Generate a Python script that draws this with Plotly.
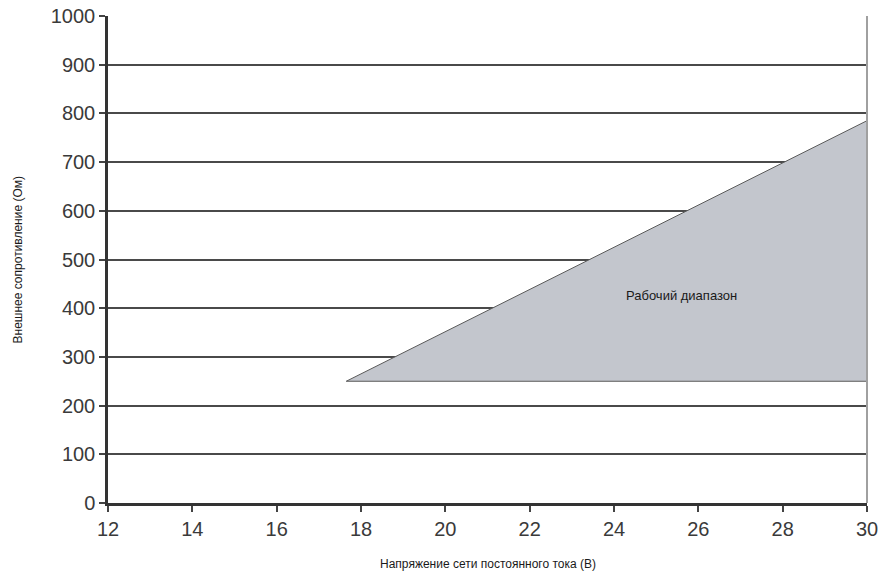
import plotly.graph_objects as go

# Data
region_x = [17.65, 30, 30, 17.65]
region_y = [250, 785, 250, 250]
label_text = "Рабочий диапазон"
label_x = 25.6
label_y = 427
x_ticks = [12, 14, 16, 18, 20, 22, 24, 26, 28, 30]
y_ticks = [0, 100, 200, 300, 400, 500, 600, 700, 800, 900, 1000]
x_title = "Напряжение сети постоянного тока (В)"
y_title = "Внешнее сопротивление (Ом)"

FONT = "Liberation Sans, Arial"

fig = go.Figure()
fig.add_trace(go.Scatter(
    x=region_x, y=region_y, mode="lines", fill="toself",
    fillcolor="#c3c6cd", line=dict(color="#5a5a5a", width=1),
    hoverinfo="skip", showlegend=False,
))
fig.add_annotation(x=label_x, y=label_y, text=label_text, showarrow=False,
                   font=dict(family=FONT, size=13, color="#1a1a1a"))

fig.add_shape(type="line", xref="paper", yref="paper", x0=1, x1=1, y0=0, y1=1,
              line=dict(color="#a0a0a0", width=2))

# Axis titles placed in paper space
fig.add_annotation(xref="paper", yref="paper", x=0.5, y=0, yshift=-61,
                   text=x_title, showarrow=False, yanchor="middle",
                   font=dict(family=FONT, size=12, color="#1a1a1a"))
fig.add_annotation(xref="paper", yref="paper", x=0, y=0.5, xshift=-91,
                   text=y_title, showarrow=False, textangle=-90, xanchor="center",
                   font=dict(family=FONT, size=12, color="#1a1a1a"))

fig.update_layout(
    width=880, height=571,
    margin=dict(l=108, r=13, t=16, b=68),
    plot_bgcolor="white", paper_bgcolor="white",
    font=dict(family=FONT, color="#333333"),
    showlegend=False,
)
fig.update_xaxes(
    range=[12, 30], tickvals=x_ticks, ticks="outside", ticklen=6, tickwidth=1.5,
    tickcolor="#444444", showgrid=False, zeroline=False, automargin=False,
    showline=True, linecolor="#333333", linewidth=2.5,
    tickfont=dict(size=20, color="#3a3a3a"),
)
fig.update_yaxes(
    range=[0, 1000], tickvals=y_ticks, ticks="outside", ticklen=6, tickwidth=1.5,
    tickcolor="#444444", showgrid=True, gridcolor="#4a4a4a", gridwidth=1.5,
    zeroline=False, showline=True, linecolor="#333333", linewidth=2.5,
    automargin=False,
    tickfont=dict(size=20, color="#3a3a3a"),
)

fig.write_html(
    "out.html",
    config={"displayModeBar": False},
    post_script="document.body.style.margin='0px';document.body.style.overflow='hidden';",
)
